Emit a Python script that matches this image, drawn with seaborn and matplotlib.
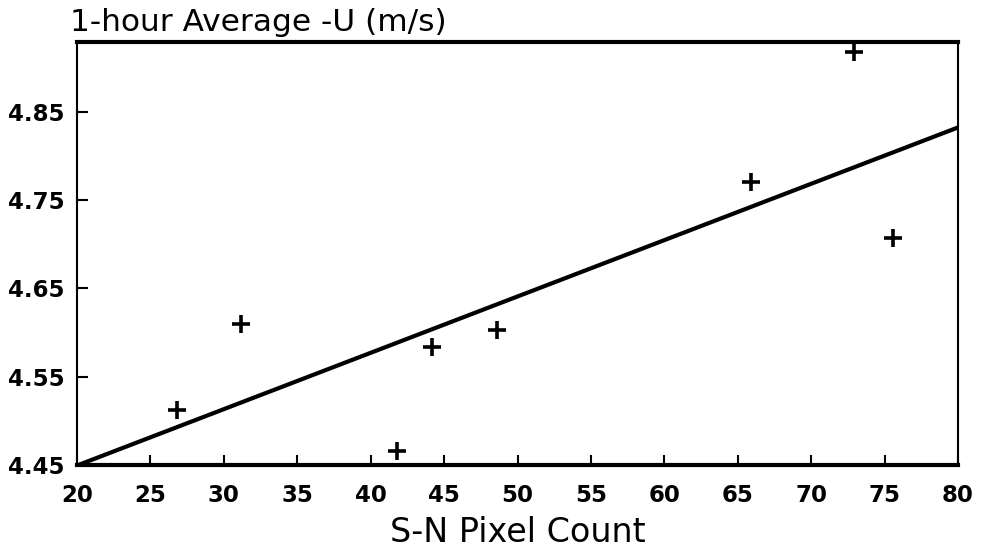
import matplotlib
matplotlib.use("Agg")
import matplotlib.pyplot as plt
import seaborn as sns
import pandas as pd

# Data
pixel_count = [26.8, 31.15, 41.8, 44.2, 48.6, 65.9, 72.9, 75.6]
u_avg = [4.512, 4.610, 4.466, 4.584, 4.603, 4.771, 4.918, 4.707]
x_ticks = [20, 25, 30, 35, 40, 45, 50, 55, 60, 65, 70, 75, 80]
y_ticks = [4.45, 4.55, 4.65, 4.75, 4.85]
y_tick_labels = ["4.45", "4.55", "4.65", "4.75", "4.85"]

df = pd.DataFrame({"x": pixel_count, "y": u_avg})

sns.set_theme(style="white")
plt.rcParams["font.family"] = ["DejaVu Sans"]

fig = plt.figure(figsize=(9.81, 5.5), dpi=100)
ax = fig.add_axes([77 / 981, 1 - 465 / 550, (958 - 77) / 981, (465 - 42) / 550])
ax.set_xlim(20, 80)
ax.set_ylim(4.45, 4.929)

sns.regplot(data=df, x="x", y="y", ax=ax, ci=None, truncate=False,
            marker="+",
            scatter_kws=dict(s=150, linewidths=2.6, color="black", alpha=1),
            line_kws=dict(color="black", lw=3.0))

ax.set_xlim(20, 80)
ax.set_ylim(4.45, 4.929)
ax.set_xticks(x_ticks)
ax.set_xticklabels([str(t) for t in x_ticks])
ax.set_yticks(y_ticks)
ax.set_yticklabels(y_tick_labels)

ax.tick_params(axis="both", direction="in", color="black", labelcolor="black",
               bottom=True, left=True, top=False, right=False)
ax.tick_params(axis="x", length=7, width=1.5, pad=14, labelsize=16.5)
ax.tick_params(axis="y", length=8, width=1.5, pad=9, labelsize=16.5)
for lab in ax.get_xticklabels() + ax.get_yticklabels():
    lab.set_fontweight("bold")

for side, lw in [("left", 1.5), ("right", 1.5), ("top", 3.0), ("bottom", 3.0)]:
    ax.spines[side].set_visible(True)
    ax.spines[side].set_color("black")
    ax.spines[side].set_linewidth(lw)

ax.set_xlabel("S-N Pixel Count", fontsize=24, labelpad=6, color="black")
ax.set_ylabel("")
ax.text(-0.008, 1.012, "1-hour Average -U (m/s)", transform=ax.transAxes,
        ha="left", va="bottom", fontsize=22.5, color="black")

fig.savefig("out.png", dpi=100)
